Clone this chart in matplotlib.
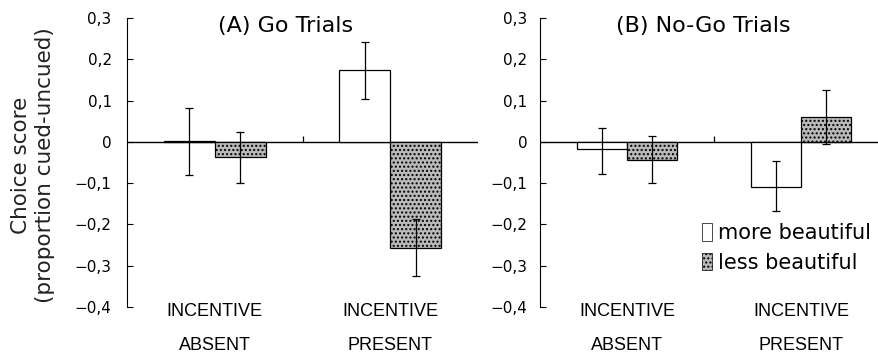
import matplotlib
matplotlib.use("Agg")
import matplotlib.pyplot as plt
import numpy as np

plt.rcParams['font.family'] = ['DejaVu Sans']

categories = ["INCENTIVE\nABSENT", "INCENTIVE\nPRESENT"]
series = ["more beautiful", "less beautiful"]
titles = ["(A) Go Trials", "(B) No-Go Trials"]

go_more = [0.002, 0.173]
go_less = [-0.037, -0.257]
go_more_lo = [-0.080, 0.105]
go_more_hi = [0.082, 0.242]
go_less_lo = [-0.100, -0.325]
go_less_hi = [0.025, -0.187]

nogo_more = [-0.018, -0.110]
nogo_less = [-0.045, 0.060]
nogo_more_lo = [-0.077, -0.167]
nogo_more_hi = [0.033, -0.047]
nogo_less_lo = [-0.100, -0.005]
nogo_less_hi = [0.013, 0.125]

yticks = [0.3, 0.2, 0.1, 0.0, -0.1, -0.2, -0.3, -0.4]
ytick_labels = ["0,3", "0,2", "0,1", "0", "\u22120,1", "\u22120,2", "\u22120,3", "\u22120,4"]

W, H = 879, 359
fig = plt.figure(figsize=(W / 100, H / 100), dpi=100)
ax1 = fig.add_axes([127 / W, 1 - 307 / H, 351 / W, 289 / H])
ax2 = fig.add_axes([540 / W, 1 - 307 / H, 348 / W, 289 / H])

gray = '#bababa'
bw = 0.29
x = np.arange(len(categories)) + 0.5

panels = [
    (ax1, go_more, go_less, go_more_lo, go_more_hi, go_less_lo, go_less_hi, 11, 0.453),
    (ax2, nogo_more, nogo_less, nogo_more_lo, nogo_more_hi, nogo_less_lo, nogo_less_hi, 9, 0.468),
]

for i, (ax, vm, vl, mlo, mhi, llo, lhi, pad, tx) in enumerate(panels):
    vm = np.array(vm); vl = np.array(vl)
    em = [vm - np.array(mlo), np.array(mhi) - vm]
    el = [vl - np.array(llo), np.array(lhi) - vl]
    ax.bar(x - bw / 2, vm, bw, color='white', edgecolor='black', linewidth=0.9,
           label=series[0], zorder=2)
    ax.bar(x + bw / 2, vl, bw, color=gray, edgecolor='black', linewidth=0.9,
           hatch='....', label=series[1], zorder=2)
    ax.errorbar(x - bw / 2, vm, yerr=em, fmt='none', ecolor='black', elinewidth=0.9,
                capsize=3, capthick=0.9, zorder=3)
    ax.errorbar(x + bw / 2, vl, yerr=el, fmt='none', ecolor='black', elinewidth=0.9,
                capsize=3, capthick=0.9, zorder=3)
    ax.axhline(0, color='black', linewidth=1.0, zorder=1)
    ax.vlines(len(categories) / 2, 0, 0.013, color='black', linewidth=0.9)
    ax.set_xlim(0, len(categories))
    ax.set_ylim(-0.4, 0.3)
    ax.set_yticks(yticks)
    ax.set_yticklabels(ytick_labels, fontsize=11)
    ax.tick_params(axis='y', direction='in', length=4, width=0.8, pad=pad)
    ax.set_xticks(x)
    ax.set_xticklabels(categories, fontsize=13, linespacing=2.3,
                       family=['Liberation Sans'])
    ax.tick_params(axis='x', length=0, pad=-3)
    for s in ['top', 'right', 'bottom']:
        ax.spines[s].set_visible(False)
    ax.spines['left'].set_linewidth(0.8)
    ax.text(tx, 0.972, titles[i], transform=ax.transAxes, fontsize=16,
            ha='center', va='center')

fig.text(33 / W, 1 - 165 / H, "Choice score\n(proportion cued-uncued)", fontsize=15.5,
         rotation=90, ha='center', va='center', color='#222222', linespacing=1.3)

leg = ax2.legend(loc='upper left', bbox_to_anchor=(0.465, 0.29), frameon=False,
                 fontsize=15, handlelength=0.5, handleheight=0.9, handletextpad=0.3,
                 labelspacing=0.45, borderaxespad=0, borderpad=0)
for h in leg.legend_handles:
    h.set_linewidth(0.5)

fig.savefig("out.png", dpi=100)
